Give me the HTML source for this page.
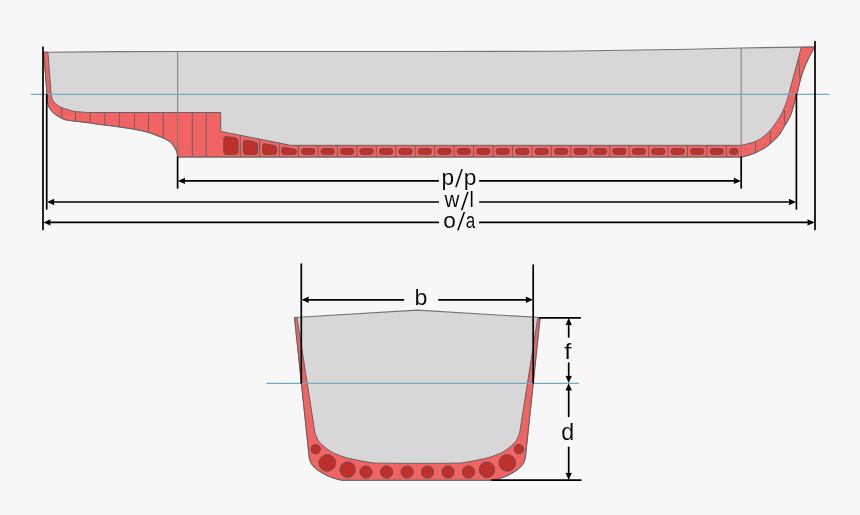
<!DOCTYPE html>
<html><head><meta charset="utf-8">
<style>
html,body{margin:0;padding:0;background:#f7f7f7;}
svg{display:block;}
text{font-family:"Liberation Sans",sans-serif;fill:#000;}
.lbl{filter:grayscale(1);}
.lbl text{stroke:#f7f7f7;stroke-width:0.1px;paint-order:fill stroke;}
</style></head><body>
<svg width="860" height="515" viewBox="0 0 860 515">
<rect x="0" y="0" width="860" height="515" fill="#f7f7f7"/>
<defs><path id="ah" d="M-0.5 0 L6.8 -3.2 L6.4 0 L6.8 3.2 Z"/></defs>
<path d="M43.75 52.2 L120.00 51.60 L180.00 51.50 L420.00 51.50 L560.00 51.20 L640.00 50.00 L690.00 49.20 L741.00 48.00 L800.00 47.10 L814.50 47.00 C813.45 48.98 810.07 55.03 808.20 58.90 C806.33 62.77 804.68 66.45 803.30 70.20 C801.92 73.95 800.95 77.47 799.90 81.40 C798.85 85.33 797.83 90.62 797.00 93.80 C796.17 96.98 795.87 97.20 794.90 100.50 C793.93 103.80 792.38 110.28 791.20 113.60 C790.02 116.92 789.17 117.93 787.80 120.40 C786.43 122.87 784.50 125.93 783.00 128.40 C781.50 130.87 780.63 132.93 778.80 135.20 C776.97 137.47 774.27 139.97 772.00 142.00 C769.73 144.03 767.47 145.87 765.20 147.40 C762.93 148.93 760.67 150.07 758.40 151.20 C756.13 152.33 753.87 153.35 751.60 154.20 C749.33 155.05 746.57 155.83 744.80 156.30 C743.03 156.77 741.63 156.88 741.00 157.00 L177.6 157 C177.55 156.57 177.55 155.58 177.30 154.40 C177.05 153.22 176.77 151.40 176.10 149.90 C175.43 148.40 174.32 146.77 173.30 145.40 C172.28 144.03 171.67 142.93 170.00 141.70 C168.33 140.47 166.88 139.55 163.30 138.00 C159.72 136.45 153.32 133.87 148.50 132.40 C143.68 130.93 139.15 130.10 134.40 129.20 C129.65 128.30 125.73 127.80 120.00 127.00 C114.27 126.20 104.92 125.07 100.00 124.40 C95.08 123.73 94.53 123.53 90.50 123.00 C86.47 122.47 79.55 121.67 75.80 121.20 C72.05 120.73 70.10 120.58 68.00 120.20 C65.90 119.82 64.87 119.58 63.20 118.90 C61.53 118.22 59.65 117.15 58.00 116.10 C56.35 115.05 54.57 113.77 53.30 112.60 C52.03 111.43 51.22 110.27 50.40 109.10 C49.58 107.93 48.88 107.15 48.40 105.60 C47.92 104.05 47.72 101.57 47.50 99.80 C47.28 98.03 47.17 95.80 47.10 95.00 L43.75 52.2 Z" fill="#d7d7d7" stroke="#747474" stroke-width="1.15"/>
<path d="M43.75 52.2 L47.9 52.3 L51.2 95 C51.37 95.62 51.70 97.50 52.20 98.70 C52.70 99.90 53.33 101.13 54.20 102.20 C55.07 103.27 56.18 104.23 57.40 105.10 C58.62 105.97 59.73 106.65 61.50 107.40 C63.27 108.15 65.75 108.93 68.00 109.60 C70.25 110.27 71.67 110.92 75.00 111.40 C78.33 111.88 85.83 112.32 88.00 112.50 L220.7 112.5 L220.7 131.4 L290.6 145.3 L741 145.3 C743.33 144.68 750.97 143.28 755.00 141.60 C759.03 139.92 762.12 137.77 765.20 135.20 C768.28 132.63 770.78 129.77 773.50 126.20 C776.22 122.63 779.32 117.92 781.50 113.80 C783.68 109.68 785.38 104.83 786.60 101.50 C787.82 98.17 787.37 99.02 788.80 93.80 C790.23 88.58 793.13 77.95 795.20 70.20 C797.27 62.45 800.20 51.12 801.20 47.30 L814.5 47 C813.45 48.98 810.07 55.03 808.20 58.90 C806.33 62.77 804.68 66.45 803.30 70.20 C801.92 73.95 800.95 77.47 799.90 81.40 C798.85 85.33 797.83 90.62 797.00 93.80 C796.17 96.98 795.87 97.20 794.90 100.50 C793.93 103.80 792.38 110.28 791.20 113.60 C790.02 116.92 789.17 117.93 787.80 120.40 C786.43 122.87 784.50 125.93 783.00 128.40 C781.50 130.87 780.63 132.93 778.80 135.20 C776.97 137.47 774.27 139.97 772.00 142.00 C769.73 144.03 767.47 145.87 765.20 147.40 C762.93 148.93 760.67 150.07 758.40 151.20 C756.13 152.33 753.87 153.35 751.60 154.20 C749.33 155.05 746.57 155.83 744.80 156.30 C743.03 156.77 741.63 156.88 741.00 157.00 L177.6 157 C177.55 156.57 177.55 155.58 177.30 154.40 C177.05 153.22 176.77 151.40 176.10 149.90 C175.43 148.40 174.32 146.77 173.30 145.40 C172.28 144.03 171.67 142.93 170.00 141.70 C168.33 140.47 166.88 139.55 163.30 138.00 C159.72 136.45 153.32 133.87 148.50 132.40 C143.68 130.93 139.15 130.10 134.40 129.20 C129.65 128.30 125.73 127.80 120.00 127.00 C114.27 126.20 104.92 125.07 100.00 124.40 C95.08 123.73 94.53 123.53 90.50 123.00 C86.47 122.47 79.55 121.67 75.80 121.20 C72.05 120.73 70.10 120.58 68.00 120.20 C65.90 119.82 64.87 119.58 63.20 118.90 C61.53 118.22 59.65 117.15 58.00 116.10 C56.35 115.05 54.57 113.77 53.30 112.60 C52.03 111.43 51.22 110.27 50.40 109.10 C49.58 107.93 48.88 107.15 48.40 105.60 C47.92 104.05 47.72 101.57 47.50 99.80 C47.28 98.03 47.17 95.80 47.10 95.00 Z" fill="#f26363" stroke="#686262" stroke-width="1" stroke-linejoin="round"/>
<g stroke="#686262" stroke-width="1"><line x1="61.70" y1="107.47" x2="61.70" y2="118.09"/><line x1="75.50" y1="111.44" x2="75.50" y2="121.16"/><line x1="90.20" y1="112.50" x2="90.20" y2="122.96"/><line x1="104.80" y1="112.50" x2="104.80" y2="125.02"/><line x1="119.30" y1="112.50" x2="119.30" y2="126.91"/><line x1="134.40" y1="112.50" x2="134.40" y2="129.20"/><line x1="148.50" y1="112.50" x2="148.50" y2="132.40"/><line x1="163.30" y1="112.50" x2="163.30" y2="138.00"/><line x1="192.30" y1="112.50" x2="192.30" y2="157.00"/><line x1="206.20" y1="112.50" x2="206.20" y2="157.00"/><line x1="240.30" y1="135.21" x2="240.30" y2="157.00"/><line x1="259.50" y1="138.95" x2="259.50" y2="157.00"/><line x1="279.30" y1="142.80" x2="279.30" y2="157.00"/><line x1="298.50" y1="145.30" x2="298.50" y2="157.00"/><line x1="317.95" y1="145.30" x2="317.95" y2="157.00"/><line x1="337.40" y1="145.30" x2="337.40" y2="157.00"/><line x1="356.85" y1="145.30" x2="356.85" y2="157.00"/><line x1="376.30" y1="145.30" x2="376.30" y2="157.00"/><line x1="395.75" y1="145.30" x2="395.75" y2="157.00"/><line x1="415.20" y1="145.30" x2="415.20" y2="157.00"/><line x1="434.65" y1="145.30" x2="434.65" y2="157.00"/><line x1="454.10" y1="145.30" x2="454.10" y2="157.00"/><line x1="473.55" y1="145.30" x2="473.55" y2="157.00"/><line x1="493.00" y1="145.30" x2="493.00" y2="157.00"/><line x1="512.45" y1="145.30" x2="512.45" y2="157.00"/><line x1="531.90" y1="145.30" x2="531.90" y2="157.00"/><line x1="551.35" y1="145.30" x2="551.35" y2="157.00"/><line x1="570.80" y1="145.30" x2="570.80" y2="157.00"/><line x1="590.25" y1="145.30" x2="590.25" y2="157.00"/><line x1="609.70" y1="145.30" x2="609.70" y2="157.00"/><line x1="629.15" y1="145.30" x2="629.15" y2="157.00"/><line x1="648.60" y1="145.30" x2="648.60" y2="157.00"/><line x1="668.05" y1="145.30" x2="668.05" y2="157.00"/><line x1="687.50" y1="145.30" x2="687.50" y2="157.00"/><line x1="706.95" y1="145.30" x2="706.95" y2="157.00"/><line x1="726.40" y1="145.30" x2="726.40" y2="157.00"/><line x1="755.50" y1="141.30" x2="755.50" y2="153.20"/><line x1="770.30" y1="130.80" x2="770.30" y2="143.00"/><line x1="784.40" y1="110.20" x2="784.40" y2="124.50"/><line x1="798.7" y1="59" x2="800.2" y2="81"/></g>
<g fill="#c0302a" stroke="#6e4a4a" stroke-width="1"><path d="M226 136.5 L235 137.8 Q238 138.3 238 141 L238 152 Q238 154.3 235.5 154.3 L226.3 154.3 Q223.8 154.3 223.8 152 L223.8 139 Q223.8 136.2 226 136.5 Z"/><path d="M245.5 140.3 L255 142 Q257.4 142.5 257.4 145 L257.4 152 Q257.4 154.3 255 154.3 L245.8 154.3 Q243.4 154.3 243.4 152 L243.4 142.6 Q243.4 140 245.5 140.3 Z"/><path d="M264.8 143.8 L274.5 145.7 Q276.7 146.2 276.7 148.5 L276.7 152 Q276.7 154.3 274.4 154.3 L265 154.3 Q262.7 154.3 262.7 152 L262.7 146 Q262.7 143.5 264.8 143.8 Z"/><path d="M284 147.4 L294 149 Q296.6 149.5 296.6 151.8 Q296.6 154.3 294 154.3 L284.3 154.3 Q281.8 154.3 281.8 151.8 L281.8 149.6 Q281.8 147.1 284 147.4 Z"/><rect x="301.50" y="148.5" width="13.45" height="5.8" rx="2.9" ry="2.9"/><rect x="320.95" y="148.5" width="13.45" height="5.8" rx="2.9" ry="2.9"/><rect x="340.40" y="148.5" width="13.45" height="5.8" rx="2.9" ry="2.9"/><rect x="359.85" y="148.5" width="13.45" height="5.8" rx="2.9" ry="2.9"/><rect x="379.30" y="148.5" width="13.45" height="5.8" rx="2.9" ry="2.9"/><rect x="398.75" y="148.5" width="13.45" height="5.8" rx="2.9" ry="2.9"/><rect x="418.20" y="148.5" width="13.45" height="5.8" rx="2.9" ry="2.9"/><rect x="437.65" y="148.5" width="13.45" height="5.8" rx="2.9" ry="2.9"/><rect x="457.10" y="148.5" width="13.45" height="5.8" rx="2.9" ry="2.9"/><rect x="476.55" y="148.5" width="13.45" height="5.8" rx="2.9" ry="2.9"/><rect x="496.00" y="148.5" width="13.45" height="5.8" rx="2.9" ry="2.9"/><rect x="515.45" y="148.5" width="13.45" height="5.8" rx="2.9" ry="2.9"/><rect x="534.90" y="148.5" width="13.45" height="5.8" rx="2.9" ry="2.9"/><rect x="554.35" y="148.5" width="13.45" height="5.8" rx="2.9" ry="2.9"/><rect x="573.80" y="148.5" width="13.45" height="5.8" rx="2.9" ry="2.9"/><rect x="593.25" y="148.5" width="13.45" height="5.8" rx="2.9" ry="2.9"/><rect x="612.70" y="148.5" width="13.45" height="5.8" rx="2.9" ry="2.9"/><rect x="632.15" y="148.5" width="13.45" height="5.8" rx="2.9" ry="2.9"/><rect x="651.60" y="148.5" width="13.45" height="5.8" rx="2.9" ry="2.9"/><rect x="671.05" y="148.5" width="13.45" height="5.8" rx="2.9" ry="2.9"/><rect x="690.50" y="148.5" width="13.45" height="5.8" rx="2.9" ry="2.9"/><rect x="709.95" y="148.5" width="13.45" height="5.8" rx="2.9" ry="2.9"/><rect x="729.5" y="148.5" width="8.6" height="5.8" rx="2.9" ry="2.9"/></g>
<line x1="177.7" y1="51.5" x2="177.7" y2="157" stroke="#7a7a7a" stroke-width="1"/>
<line x1="741.2" y1="48" x2="741.2" y2="157" stroke="#7a7a7a" stroke-width="1"/>
<line x1="30.9" y1="94.4" x2="829.4" y2="94.4" stroke="#76a8b9" stroke-width="1.4"/>
<g stroke="#000" stroke-width="1.7" stroke-linecap="round">
<line x1="43" y1="47" x2="43" y2="229.5"/>
<line x1="46.7" y1="94.5" x2="46.7" y2="209"/>
<line x1="796.4" y1="94.5" x2="796.4" y2="209"/>
<line x1="815" y1="41.5" x2="815" y2="229.5"/>
<line x1="177.6" y1="157" x2="177.6" y2="188"/>
<line x1="741.2" y1="157" x2="741.2" y2="188"/>
<line x1="183" y1="180.9" x2="438.3" y2="180.9"/>
<line x1="479.8" y1="180.9" x2="736" y2="180.9"/>
<line x1="52" y1="202" x2="438.3" y2="202"/>
<line x1="479.8" y1="202" x2="791" y2="202"/>
<line x1="48" y1="222.4" x2="438.3" y2="222.4"/>
<line x1="479.8" y1="222.4" x2="810" y2="222.4"/>
</g>
<g fill="#000">
<use href="#ah" transform="translate(178.3 180.9)"/>
<use href="#ah" transform="translate(740.5 180.9) rotate(180)"/>
<use href="#ah" transform="translate(47.5 202)"/>
<use href="#ah" transform="translate(795.6 202) rotate(180)"/>
<use href="#ah" transform="translate(43.8 222.4)"/>
<use href="#ah" transform="translate(814.2 222.4) rotate(180)"/>
</g>
<g class="lbl"><text font-size="23.0" transform="translate(441.54 184.94) scale(0.986 0.998)">p</text><text font-size="23.0" transform="translate(455.02 187.16) skewX(-5.000) scale(1 1.089)">/</text><text font-size="23.0" transform="translate(463.64 184.94) scale(0.986 0.998)">p</text><text font-size="23.0" transform="translate(444.53 207.40) scale(0.898 0.922)">w</text><text font-size="23.0" transform="translate(460.82 209.56) skewX(-5.309) scale(1 1.089)">/</text><text font-size="23.0" transform="translate(469.60 207.40) scale(0.841 0.966)">l</text><text font-size="23.0" transform="translate(443.15 227.69) scale(0.985 0.952)">o</text><text font-size="23.0" transform="translate(457.03 230.16) skewX(-5.958) scale(1 1.083)">/</text><text font-size="23.0" transform="translate(465.87 227.69) scale(0.745 0.936)">a</text></g>
<path d="M294.5 317.5 L417.3 310.2 L540.1 317.5 L525.4 457 C525.03 458.10 524.58 461.48 523.20 463.60 C521.82 465.72 519.57 467.80 517.10 469.70 C514.63 471.60 511.32 473.53 508.40 475.00 C505.48 476.47 502.23 477.63 499.60 478.50 C496.97 479.37 493.77 479.92 492.60 480.20 L342 480.2 C340.83 479.92 337.63 479.37 335.00 478.50 C332.37 477.63 329.12 476.47 326.20 475.00 C323.28 473.53 319.97 471.60 317.50 469.70 C315.03 467.80 312.78 465.72 311.40 463.60 C310.02 461.48 309.57 458.10 309.20 457.00 Z" fill="#d7d7d7" stroke="#747474" stroke-width="1.15"/>
<path d="M294.6 317.5 L297.0 317.5 L314.8 432 C315.32 433.33 316.58 437.80 317.90 440.00 C319.22 442.20 320.58 443.30 322.70 445.20 C324.82 447.10 327.83 449.72 330.60 451.40 C333.37 453.08 336.07 454.10 339.30 455.30 C342.53 456.50 344.68 457.38 350.00 458.60 C355.32 459.82 365.37 461.83 371.20 462.60 C377.03 463.37 377.32 463.08 385.00 463.20 C392.68 463.32 406.53 463.30 417.30 463.30 C428.07 463.30 441.92 463.32 449.60 463.20 C457.28 463.08 457.57 463.37 463.40 462.60 C469.23 461.83 479.28 459.82 484.60 458.60 C489.92 457.38 492.07 456.50 495.30 455.30 C498.53 454.10 501.23 453.08 504.00 451.40 C506.77 449.72 509.78 447.10 511.90 445.20 C514.02 443.30 515.38 442.20 516.70 440.00 C518.02 437.80 519.28 433.33 519.80 432.00 L537.8 317.5 L540.1 317.5 L525.4 457 C525.03 458.10 524.58 461.48 523.20 463.60 C521.82 465.72 519.57 467.80 517.10 469.70 C514.63 471.60 511.32 473.53 508.40 475.00 C505.48 476.47 502.23 477.63 499.60 478.50 C496.97 479.37 493.77 479.92 492.60 480.20 L342 480.2 C340.83 479.92 337.63 479.37 335.00 478.50 C332.37 477.63 329.12 476.47 326.20 475.00 C323.28 473.53 319.97 471.60 317.50 469.70 C315.03 467.80 312.78 465.72 311.40 463.60 C310.02 461.48 309.57 458.10 309.20 457.00 Z" fill="#f26363" stroke="#686262" stroke-width="1" stroke-linejoin="round"/>
<g fill="#c0302a" stroke="#6e4a4a" stroke-width="1"><circle cx="315.70" cy="449.10" r="4.7"/><circle cx="327.30" cy="462.90" r="8.3"/><circle cx="347.60" cy="469.70" r="7.7"/><circle cx="366.05" cy="472.00" r="6.1"/><circle cx="386.55" cy="472.00" r="6.1"/><circle cx="407.05" cy="472.00" r="6.1"/><circle cx="518.90" cy="449.10" r="4.7"/><circle cx="507.30" cy="462.90" r="8.3"/><circle cx="487.00" cy="469.70" r="7.7"/><circle cx="468.55" cy="472.00" r="6.1"/><circle cx="448.05" cy="472.00" r="6.1"/><circle cx="427.55" cy="472.00" r="6.1"/></g>
<line x1="266.3" y1="383.4" x2="579.2" y2="383.4" stroke="#76a8b9" stroke-width="1.4"/>
<g stroke="#000" stroke-width="1.7" stroke-linecap="round">
<line x1="301.3" y1="264" x2="301.3" y2="383"/>
<line x1="533.2" y1="265" x2="533.2" y2="383"/>
<line x1="306" y1="299.8" x2="403.5" y2="299.8"/>
<line x1="438.9" y1="299.8" x2="528.5" y2="299.8"/>
<line x1="539.9" y1="317.9" x2="580.2" y2="317.9"/>
<line x1="492" y1="480.2" x2="580.8" y2="480.2"/>
<line x1="568.7" y1="324" x2="568.7" y2="337"/>
<line x1="568.7" y1="363" x2="568.7" y2="377"/>
<line x1="568.7" y1="390" x2="568.7" y2="416.3"/>
<line x1="568.7" y1="447.3" x2="568.7" y2="474"/>
</g>
<g fill="#000">
<use href="#ah" transform="translate(302 299.8)"/>
<use href="#ah" transform="translate(532.5 299.8) rotate(180)"/>
<use href="#ah" transform="translate(568.7 318.4) rotate(90)"/>
<use href="#ah" transform="translate(568.7 382.6) rotate(-90)"/>
<use href="#ah" transform="translate(568.7 383.8) rotate(90)"/>
<use href="#ah" transform="translate(568.7 479.6) rotate(-90)"/>
</g>
<g class="lbl"><text font-size="23.0" transform="translate(414.61 305.08) scale(1.005 0.989)">b</text><text font-size="23.0" transform="translate(564.14 358.50) scale(1.115 0.985)">f</text><text font-size="23.0" transform="translate(561.32 440.38) scale(1.015 1.001)">d</text></g>
</svg>
</body></html>
